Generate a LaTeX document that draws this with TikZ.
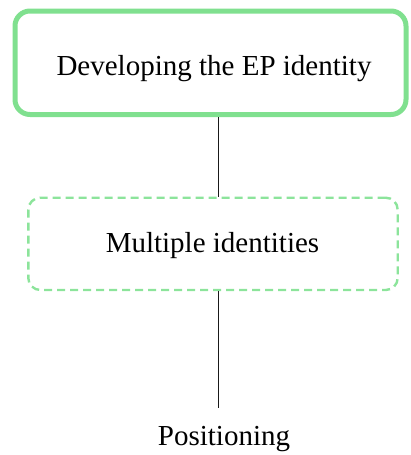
\documentclass[tikz,border=0pt]{standalone}
\usepackage{fontspec}
\setmainfont{Liberation Serif}
\definecolor{boxgreen}{RGB}{128,224,143}
\definecolor{dashgreen}{RGB}{140,228,155}
\definecolor{linkgray}{RGB}{25,25,25}
\tikzset{
  solidbox/.style={draw=boxgreen, line width=5pt, rounded corners=15pt, inner sep=0pt},
  dashbox/.style={draw=dashgreen, line width=2.4pt, rounded corners=12pt, inner sep=0pt,
                  dash pattern=on 8pt off 5pt},
  caption/.style={font=\fontsize{29}{34}\selectfont, text=black, inner sep=0pt, anchor=base},
  link/.style={draw=linkgray, line width=1.6pt},
}
\begin{document}
\begin{tikzpicture}[x=1pt, y=-1pt]
  \useasboundingbox (0,0) rectangle (410,455);
  % framed stages
  \node[solidbox, minimum width=391pt, minimum height=103.5pt] (dev) at (210.5,62.75) {};
  \node[dashbox, minimum width=369.4pt, minimum height=92.3pt] (multi) at (213,243.85) {};
  % captions
  \node[caption] (devtext) at (214,75) {Developing the EP identity};
  \node[caption] (multitext) at (212.5,252.7) {Multiple identities};
  \node[caption] (pos) at (224,445) {Positioning};
  % connectors
  \coordinate (c1top) at (218.3,117);
  \coordinate (c1bot) at (218.3,197.7);
  \coordinate (c2top) at (218.3,290);
  \coordinate (c2bot) at (218.3,408);
  \draw[link] (dev.south -| c1top) -- (multi.north -| c1bot);
  \draw[link] (multi.south -| c2top) -- (c2bot);
\end{tikzpicture}
\end{document}
